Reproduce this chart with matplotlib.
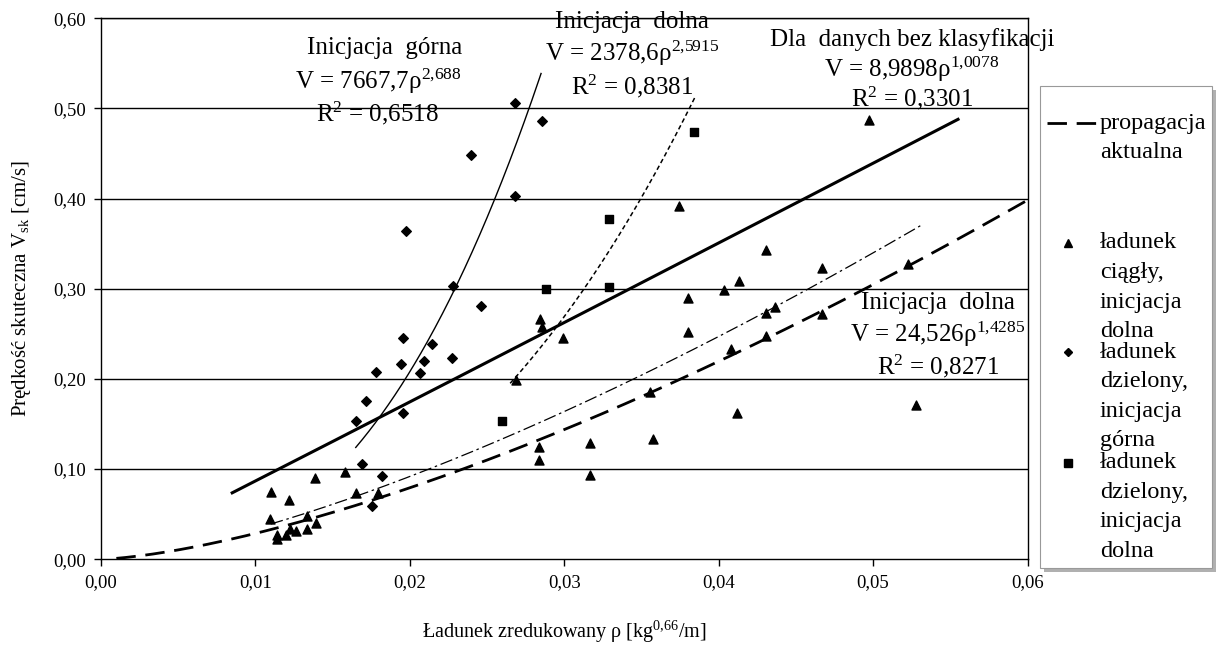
import numpy as np
import matplotlib
matplotlib.use("Agg")
import matplotlib.pyplot as plt
from matplotlib.lines import Line2D
from matplotlib.patches import Rectangle

plt.rcParams['font.family'] = ['Liberation Serif', 'DejaVu Serif']
plt.rcParams['mathtext.fontset'] = 'custom'
plt.rcParams['mathtext.rm'] = 'Liberation Serif'
plt.rcParams['mathtext.it'] = 'Liberation Serif:italic'

# ładunek ciągły, inicjacja dolna (triangles)
tri_x = [0.01102, 0.01387, 0.01581, 0.01216, 0.01654, 0.01793, 0.01337, 0.01095,
         0.01391, 0.01227, 0.01262, 0.01197, 0.01335, 0.01142, 0.0114,
         0.0269, 0.02845, 0.02858, 0.02992, 0.02838, 0.02838, 0.03166, 0.03166,
         0.03553, 0.03575, 0.03743, 0.0413, 0.04037, 0.03804, 0.03799, 0.04082,
         0.04972, 0.04309, 0.04667, 0.04367, 0.04309, 0.04667, 0.05225, 0.04309,
         0.04119, 0.05279]
tri_y = [0.075, 0.090, 0.097, 0.0656, 0.0733, 0.0733, 0.048, 0.0449,
         0.040, 0.0335, 0.031, 0.027, 0.0335, 0.027, 0.022,
         0.199, 0.266, 0.257, 0.245, 0.124, 0.110, 0.129, 0.0936,
         0.185, 0.133, 0.392, 0.308, 0.298, 0.290, 0.252, 0.2336,
         0.487, 0.343, 0.3227, 0.280, 0.273, 0.272, 0.327, 0.248,
         0.162, 0.171]

# ładunek dzielony, inicjacja górna (diamonds)
dia_x = [0.02683, 0.02858, 0.02396, 0.02683, 0.01976, 0.02279, 0.0246, 0.01957,
         0.02147, 0.0194, 0.0209, 0.02276, 0.01782, 0.02065, 0.01717, 0.01652,
         0.01955, 0.01693, 0.01821, 0.01758]
dia_y = [0.506, 0.486, 0.448, 0.403, 0.364, 0.303, 0.281, 0.245,
         0.239, 0.217, 0.220, 0.223, 0.208, 0.206, 0.176, 0.153,
         0.162, 0.106, 0.092, 0.0585]

# ładunek dzielony, inicjacja dolna (squares)
sq_x = [0.0384, 0.0329, 0.02879, 0.0329, 0.026]
sq_y = [0.474, 0.377, 0.300, 0.302, 0.1535]

# trend lines: (a, b, x_start, x_end) for V = a * rho^b
fit_all = (8.9898, 1.0078, 0.0085, 0.0555)
fit_gorna = (7667.7, 2.688, 0.0165, 0.0285)
fit_dolna_dz = (2378.6, 2.5915, 0.0265, 0.0385)
fit_dolna_ci = (24.526, 1.4285, 0.011, 0.0532)
fit_propagacja = (24.9, 1.47, 0.001, 0.06)

xticks = [0.0, 0.01, 0.02, 0.03, 0.04, 0.05, 0.06]
yticks = [0.0, 0.1, 0.2, 0.3, 0.4, 0.5, 0.6]


def power_curve(fit):
    a, b, x0, x1 = fit
    xs = np.linspace(x0, x1, 200)
    return xs, a * xs ** b


fig = plt.figure(figsize=(12.16, 6.48), dpi=100)
ax = fig.add_axes([0.083, 0.137, 0.762, 0.835])

for yv in yticks[1:]:
    ax.axhline(yv, color='black', lw=1.0, zorder=1)

xs, ys = power_curve(fit_propagacja)
ax.plot(xs, ys, color='black', lw=2.0, linestyle=(0, (7, 3.5)), zorder=2)
xs, ys = power_curve(fit_dolna_ci)
ax.plot(xs, ys, color='black', lw=0.9, linestyle=(0, (10, 3, 2, 3)), zorder=2)
xs, ys = power_curve(fit_all)
ax.plot(xs, ys, color='black', lw=2.2, zorder=2)
xs, ys = power_curve(fit_gorna)
ax.plot(xs, ys, color='black', lw=1.0, zorder=2)
xs, ys = power_curve(fit_dolna_dz)
ax.plot(xs, ys, color='black', lw=1.1, linestyle=(0, (3, 2)), zorder=2)

ax.scatter(tri_x, tri_y, marker='^', s=42, color='black', zorder=3)
ax.scatter(dia_x, dia_y, marker='D', s=24, color='black', zorder=3)
ax.scatter(sq_x, sq_y, marker='s', s=38, color='black', zorder=3)

ax.set_xlim(0, 0.06)
ax.set_ylim(0, 0.6)
ax.set_xticks(xticks)
ax.set_yticks(yticks)
ax.set_xticklabels([f"{v:.2f}".replace('.', ',') for v in xticks], fontsize=13.5)
ax.set_yticklabels([f"{v:.2f}".replace('.', ',') for v in yticks], fontsize=13.5)
ax.tick_params(direction='out', length=5, width=1, color='black', pad=6)
for s in ax.spines.values():
    s.set_linewidth(1.0)

ax.set_xlabel("Ładunek zredukowany ρ [kg$^{\\mathrm{0{,}66}}$/m]", fontsize=14.5, labelpad=20)
ax.set_ylabel("Prędkość skuteczna V$_{\\mathrm{sk}}$ [cm/s]", fontsize=15, labelpad=14)

# equation labels (figure pixel positions converted to fractions)
W, H = 1216.0, 648.0


def ftext(x, y, s, size=18):
    fig.text(x / W, 1 - y / H, s, ha='center', va='center', fontsize=size)


ftext(385, 48, "Inicjacja  górna")
ftext(378, 81, "V = 7667,7ρ$^{\\mathrm{2{,}688}}$")
ftext(377, 113, "R$^{\\mathrm{2}}$ = 0,6518")
ftext(632, 22, "Inicjacja  dolna")
ftext(632, 53, "V = 2378,6ρ$^{\\mathrm{2{,}5915}}$")
ftext(632, 86, "R$^{\\mathrm{2}}$ = 0,8381")
ftext(912, 40, "Dla  danych bez klasyfikacji")
ftext(912, 69, "V = 8,9898ρ$^{\\mathrm{1{,}0078}}$")
ftext(912, 98, "R$^{\\mathrm{2}}$ = 0,3301")
ftext(938, 303, "Inicjacja  dolna")
ftext(938, 334, "V = 24,526ρ$^{\\mathrm{1{,}4285}}$")
ftext(938, 366, "R$^{\\mathrm{2}}$ = 0,8271")

# legend drawn manually
lx0, lx1, ly0, ly1 = 1040, 1212, 86, 568
fig.add_artist(Rectangle(((lx0 + 4) / W, 1 - (ly1 + 4) / H), (lx1 - lx0) / W, (ly1 - ly0) / H,
                         transform=fig.transFigure, facecolor='#b0b0b0', edgecolor='none', zorder=0))
fig.add_artist(Rectangle((lx0 / W, 1 - ly1 / H), (lx1 - lx0) / W, (ly1 - ly0) / H,
                         transform=fig.transFigure, facecolor='white', edgecolor='#999999',
                         lw=0.8, zorder=1))

fig.add_artist(Line2D([1047 / W, 1096 / W], [1 - 123 / H] * 2, color='black', lw=2.0,
                      linestyle=(0, (7, 3.5)), transform=fig.transFigure))

legend_blocks = [
    (None, 123, ["propagacja", "aktualna"]),
    ('^', 243, ["ładunek", "ciągły,", "inicjacja", "dolna"]),
    ('D', 352, ["ładunek", "dzielony,", "inicjacja", "górna"]),
    ('s', 463, ["ładunek", "dzielony,", "inicjacja", "dolna"]),
]
msizes = {'^': 6, 'D': 4.5, 's': 6}
for mk, y0, lines in legend_blocks:
    if mk is not None:
        fig.add_artist(Line2D([1068 / W], [1 - y0 / H], marker=mk, markersize=msizes[mk],
                              color='black', transform=fig.transFigure))
    for i, t in enumerate(lines):
        fig.text(1100 / W, 1 - (y0 + i * 29.5) / H, t, ha='left', va='center', fontsize=17.5)

fig.savefig("out.png", dpi=100)
